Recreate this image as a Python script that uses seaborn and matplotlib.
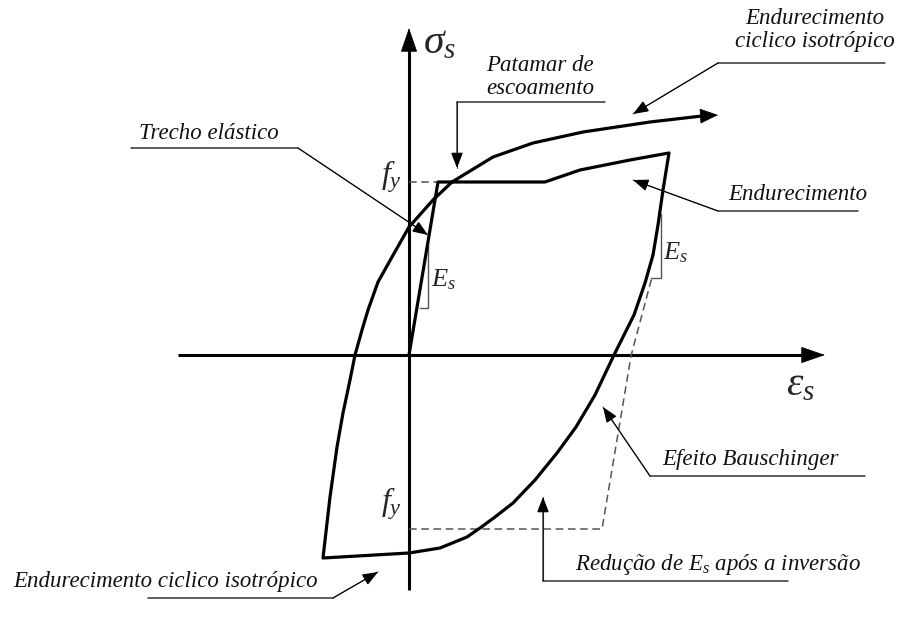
import matplotlib
matplotlib.use("Agg")
import matplotlib.pyplot as plt
import seaborn as sns
import pandas as pd

# Hysteresis loop of reinforcing steel (strain, stress) in drawing units:
# elastic branch, yield plateau, hardening, unloading, reverse loading and reloading
loop_eps = [0, 29, 136, 171, 221, 260,
            254, 249, 244, 236, 225, 205, 186, 167, 148, 126, 104, 86, 71, 58, 31, 0, -86,
            -79, -72, -66, -59, -54, -47, -41, -31, -17, 0, 24, 43, 84, 124, 174, 241, 293, 309]
loop_sig = [0, 173, 173, 185, 195, 202,
            165, 130, 100, 72, 40, 0, -40, -72, -98, -125, -148, -162, -173, -182, -193, -198, -203,
            -142, -92, -58, -25, 0, 25, 45, 73, 98, 128, 155, 173, 198, 212, 223, 233, 239, 240]

# Yield stress references and elastic unloading line with reduced modulus
fy_top_eps = [0, 29]
fy_top_sig = [173, 173]
reduced_es_eps = [0, 193, 213, 222, 243]
reduced_es_sig = [-174, -174, -55, -1, 78]

# Modulus brackets
es_left_eps = [11, 19, 19]
es_left_sig = [47, 47, 122]
es_right_eps = [242, 252, 252]
es_right_sig = [77, 77, 141]

# Axes of the diagram
sig_axis = [-235, 327]
eps_axis = [-231, 416]

sns.set_style("white")
plt.rcParams["font.family"] = ["Liberation Serif", "DejaVu Serif"]
plt.rcParams["mathtext.fontset"] = "custom"
plt.rcParams["mathtext.it"] = "Liberation Serif:italic"
plt.rcParams["mathtext.rm"] = "Liberation Serif"

fig = plt.figure(figsize=(8.98, 6.17), dpi=100)
ax = fig.add_axes([0, 0, 1, 1])
ax.set_xlim(-409, 489)
ax.set_ylim(-262, 355)
ax.axis("off")

TXT = dict(fontsize=16.5, fontstyle="italic", color="#111111")
LEADER = dict(color="#444444", lw=0.8)
UNDER = dict(color="#333333", lw=1.1)


def arrow(tip, base, lw, hl, hw, color="k"):
    ax.annotate("", xy=tip, xytext=base,
                arrowprops=dict(arrowstyle=f"-|>,head_length={hl},head_width={hw}",
                                lw=lw, color=color, shrinkA=0, shrinkB=0,
                                joinstyle="miter"))


# coordinate axes with arrowheads
ax.plot([0, 0], [sig_axis[0], sig_axis[1] - 20], color="k", lw=2.2, solid_capstyle="butt")
arrow((0, sig_axis[1]), (0, sig_axis[1] - 25), 0.5, 1.6, 0.55)
ax.plot([eps_axis[0], eps_axis[1] - 20], [0, 0], color="k", lw=2.2, solid_capstyle="butt")
arrow((eps_axis[1], 0), (eps_axis[1] - 25, 0), 0.5, 1.6, 0.55)

# dashed reference lines
df_fy = pd.DataFrame({"eps": fy_top_eps, "sig": fy_top_sig})
sns.lineplot(data=df_fy, x="eps", y="sig", sort=False, estimator=None, ax=ax,
             color="#555555", lw=1.1, linestyle=(0, (5, 3)))
df_red = pd.DataFrame({"eps": reduced_es_eps, "sig": reduced_es_sig})
sns.lineplot(data=df_red, x="eps", y="sig", sort=False, estimator=None, ax=ax,
             color="#555555", lw=1.1, linestyle=(0, (5, 3)))

# modulus brackets
ax.plot(es_left_eps, es_left_sig, color="#555555", lw=1.0)
ax.plot(es_right_eps, es_right_sig, color="#555555", lw=1.0)

# main stress-strain path, ending with an arrow
df_loop = pd.DataFrame({"eps": loop_eps[:-1], "sig": loop_sig[:-1]})
sns.lineplot(data=df_loop, x="eps", y="sig", sort=False, estimator=None, ax=ax,
             color="k", lw=2.3)
arrow((loop_eps[-1], loop_sig[-1]), (loop_eps[-2], loop_sig[-2]), 0.5, 1.2, 0.5)

# axis and level labels
ax.text(14, 312, r"$\sigma_s$", fontsize=30, ha="left", va="center")
ax.text(377, -30, r"$\varepsilon_s$", fontsize=30, ha="left", va="center")
ax.text(-7, 178, r"$f_y$", fontsize=23, ha="right", va="center")
ax.text(-7, -149, r"$f_y$", fontsize=23, ha="right", va="center")
ax.text(22, 75, r"$E_s$", fontsize=19, ha="left", va="center")
ax.text(254, 102, r"$E_s$", fontsize=19, ha="left", va="center")

# callouts: text, underline / leader path, arrow tip
callouts = [
    ("Trecho elástico", (-270, 216), "left", [(-278, 207), (-111, 207)], (19, 120)),
    ("Patamar de\nescoamento", (131, 261), "center", [(196, 253), (48, 253)], (48, 187)),
    ("Endurecimento\nciclico isotrópico", (406, 308), "center", [(476, 292), (309, 292)], (224, 241)),
    ("Endurecimento", (319, 155), "left", [(449, 144), (309, 144)], (224, 175)),
    ("Efeito Bauschinger", (253, -110), "left", [(456, -121), (241, -121)], (194, -52)),
    (r"Redução de $E_s$ após a inversão", (166, -215), "left", [(379, -226), (134, -226)], (134, -142)),
    ("Endurecimento ciclico isotrópico", (-396, -232), "left", [(-261, -243), (-76, -243)], (-31, -217)),
]
for label, pos, ha, path, tip in callouts:
    ax.text(pos[0], pos[1], label, ha=ha, va="baseline", linespacing=1.1, **TXT)
    xs = [p[0] for p in path]
    ys = [p[1] for p in path]
    ax.plot(xs, ys, **UNDER)
    ax.plot([path[-1][0], tip[0]], [path[-1][1], tip[1]], **LEADER)
    arrow(tip, path[-1], 0.8, 0.95, 0.37, color="k")

fig.savefig("out.png", dpi=100, facecolor="white")
